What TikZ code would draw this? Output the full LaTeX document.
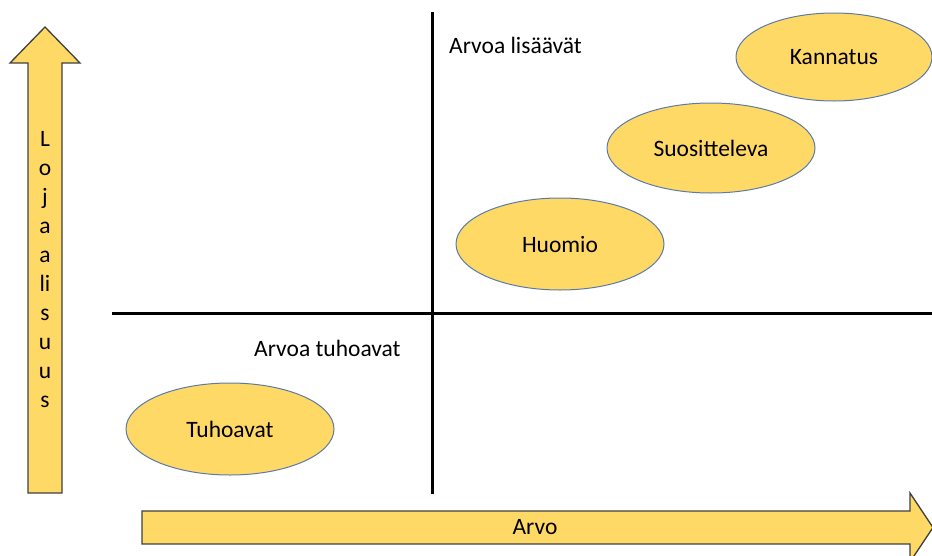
\documentclass[tikz,border=0pt]{standalone}
\usepackage{fontspec}
\setmainfont{Carlito}
\usetikzlibrary{shapes.geometric}
\definecolor{gold}{HTML}{FFD966}
\definecolor{rim}{HTML}{5B7BA6}
\definecolor{arrowrim}{HTML}{404040}
\begin{document}
\begin{tikzpicture}[x=1pt,y=-1pt,
  txt/.style={font=\fontsize{23.5}{29}\selectfont, inner sep=0pt},
  bubble/.style={ellipse, draw=rim, line width=1pt, fill=gold, inner sep=0pt,
    font=\fontsize{23.5}{29}\selectfont},
  bigarrow/.style={draw=arrowrim, line width=1.3pt, fill=gold, line join=miter},
  axis/.style={line width=3pt, black}]
  \useasboundingbox (0,0) rectangle (932,555);
  \clip (0,0) rectangle (932,555);

  % value and loyalty arrows
  \draw[bigarrow] (28,493) -- (28,63) -- (10,63) -- (45,27) -- (80,63)
    -- (62,63) -- (62,493) -- cycle;
  \draw[bigarrow] (142,511) -- (910,511) -- (910,493) -- (933,527.5)
    -- (910,562) -- (910,544) -- (142,544) -- cycle;
  \node[txt, align=center, anchor=north] (loy) at (45,131)
    {L\\o\\j\\a\\a\\li\\s\\u\\u\\s};
  \node[txt] (arvo) at (535,527.5) {Arvo};

  % quadrant axes
  \coordinate (vtop) at (432,12);
  \coordinate (vbot) at (432,494);
  \coordinate (hl) at (112,313);
  \coordinate (hr) at (932,313);
  \draw[axis] (vtop) -- (vbot);
  \draw[axis] (hl) -- (hr);

  \node[txt, anchor=west] (add) at (449,45) {Arvoa lisäävät};
  \node[txt, anchor=west] (destroy) at (254,348) {Arvoa tuhoavat};

  % customer groups
  \node[bubble, minimum width=196pt, minimum height=88pt] (kan) at (834,57) {Kannatus};
  \node[bubble, minimum width=208pt, minimum height=90pt] (suo) at (711,148) {Suositteleva};
  \node[bubble, minimum width=208pt, minimum height=92pt] (huo) at (560,244) {Huomio};
  \node[bubble, minimum width=208pt, minimum height=92pt] (tuh) at (230,429) {Tuhoavat};
\end{tikzpicture}
\end{document}
